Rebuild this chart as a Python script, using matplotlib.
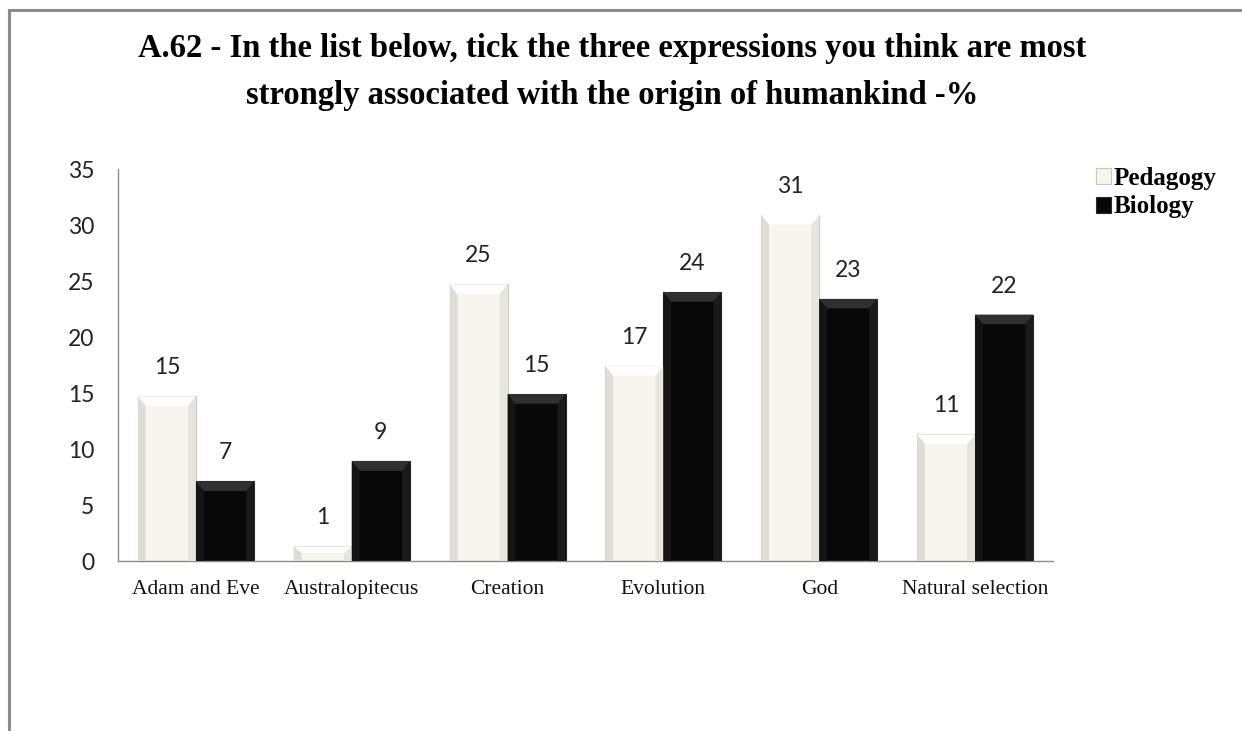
import matplotlib
matplotlib.use("Agg")
import matplotlib.pyplot as plt
import numpy as np
from matplotlib.patches import Rectangle, Polygon

categories = ["Adam and Eve", "Australopitecus", "Creation", "Evolution", "God", "Natural selection"]
pedagogy = [14.7, 1.3, 24.7, 17.4, 30.9, 11.3]
biology = [7.1, 8.9, 14.9, 24.0, 23.4, 22.0]
series_names = ["Pedagogy", "Biology"]
yticks = [0, 5, 10, 15, 20, 25, 30, 35]
title = ("A.62 - In the list below, tick the three expressions you think are most\n"
         "strongly associated with the origin of humankind -%")

W, H = 1242, 731
fig = plt.figure(figsize=(W / 100, H / 100), dpi=100)
ax = fig.add_axes([118 / W, 1 - 561 / H, (1053 - 118) / W, (561 - 169) / H])

x = np.arange(len(categories))
bw = 0.372
b1 = ax.bar(x - bw / 2, pedagogy, bw, color="#F7F5EC", edgecolor="#C8C6BE", linewidth=0.8, label=series_names[0], zorder=2)
b2 = ax.bar(x + bw / 2, biology, bw, color="#080808", edgecolor="#2a2a2a", linewidth=0.8, label=series_names[1], zorder=2)

# bevel shading derived from bar patches
sx = 0.05   # side strip width (data)
ty = 0.85   # top band height (data)
def bevel(bars, top_col, left_col, right_col):
    for p in bars:
        x0, y0 = p.get_x(), p.get_y()
        w, h = p.get_width(), p.get_height()
        t = min(ty, h * 0.45)
        s = sx
        ax.add_patch(Polygon([[x0, y0], [x0 + s, y0], [x0 + s, y0 + h - t], [x0, y0 + h]],
                             closed=True, facecolor=left_col, edgecolor="none", zorder=3))
        ax.add_patch(Polygon([[x0 + w, y0], [x0 + w - s, y0], [x0 + w - s, y0 + h - t], [x0 + w, y0 + h]],
                             closed=True, facecolor=right_col, edgecolor="none", zorder=3))
        ax.add_patch(Polygon([[x0, y0 + h], [x0 + w, y0 + h], [x0 + w - s, y0 + h - t], [x0 + s, y0 + h - t]],
                             closed=True, facecolor=top_col, edgecolor="none", zorder=3))

bevel(b1, "#FFFFFD", "#DEDCD4", "#E6E4DC")
bevel(b2, "#303030", "#141414", "#1a1a1a")

for cont, vals in ((b1, pedagogy), (b2, biology)):
    ax.bar_label(cont, labels=[f"{v:.0f}" for v in vals], padding=13,
                 fontsize=16.5, family="Lato", color="#222222")

ax.set_xlim(-0.5, len(categories) - 0.5)
ax.set_ylim(0, 35)
ax.set_yticks(yticks)
ax.set_yticklabels([str(t) for t in yticks], fontsize=16.5, family="Lato", color="#222222")
ax.set_xticks(x)
ax.set_xticklabels(categories, fontsize=15.5, family="Liberation Serif", color="#111111")
ax.tick_params(axis="y", length=0, pad=17)
ax.tick_params(axis="x", length=0, pad=13.5)
for s in ("top", "right"):
    ax.spines[s].set_visible(False)
ax.spines["left"].set_color("#8a8a8a")
ax.spines["bottom"].set_color("#8a8a8a")
ax.spines["left"].set_linewidth(1.0)
ax.spines["bottom"].set_linewidth(1.0)

fig.text(612 / W, 1 - 72 / H, title, ha="center", va="center", fontsize=23.5,
         fontweight="bold", family="Liberation Serif", linespacing=1.68)

leg = fig.legend(handles=[b1, b2], labels=series_names, loc="upper left",
                 bbox_to_anchor=(1096 / W, 1 - 167 / H), frameon=False,
                 prop={"family": "Liberation Serif", "weight": "bold", "size": 18},
                 handlelength=0.6, handleheight=0.6, handletextpad=0.12,
                 labelspacing=0.22, borderpad=0, borderaxespad=0)

# outer frame (top and left visible)
fig.patches.append(Rectangle((9 / W, -0.05), 1.2, 1 - 10 / H + 0.05, transform=fig.transFigure,
                             fill=False, edgecolor="#8C8C8C", linewidth=2.2))

fig.savefig("out.png", dpi=100)
